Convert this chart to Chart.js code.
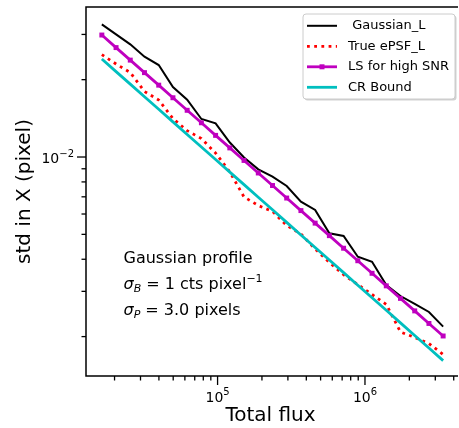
<!DOCTYPE html>
<html>
<head>
<meta charset="utf-8">
<script src="https://cdn.jsdelivr.net/npm/chart.js@4.4.1/dist/chart.umd.min.js"></script>
<style>
  html, body { margin: 0; padding: 0; background: #fff; }
  #chart { display: block; }
</style>
</head>
<body>
<canvas id="chart" width="459" height="428"></canvas>
<script>
const FONT = '"DejaVu Sans", sans-serif';

// --- Data (log-log) ---
const fluxValues = [16400, 20480, 25570, 31930, 39880, 49800, 62190, 77670, 96960,
  121100, 151200, 188900, 235900, 294400, 367700, 459200, 573400, 716100, 894200,
  1117000, 1395000, 1741000, 2175000, 2716000, 3391000];

const gaussianL = [0.03283, 0.03002, 0.02745, 0.02457, 0.02280, 0.01873, 0.01671, 0.01406,
  0.01352, 0.01139, 0.009956, 0.008956, 0.008381, 0.007712, 0.006701, 0.006221, 0.005047,
  0.004927, 0.004093, 0.003913, 0.003176, 0.002877, 0.002679, 0.002494, 0.002186];

const trueEpsfL = [0.02505, 0.02301, 0.02133, 0.01798, 0.01667, 0.01412, 0.01266, 0.01180,
  0.01036, 0.008742, 0.006990, 0.006476, 0.006137, 0.005415, 0.005016, 0.004385, 0.003886,
  0.003483, 0.003188, 0.002917, 0.002668, 0.002085, 0.001984, 0.001880, 0.001704];

const lsHighSnr = [0.02984, 0.02666, 0.02383, 0.02130, 0.01904, 0.01701, 0.01520, 0.01359,
  0.01214, 0.01085, 0.009698, 0.008667, 0.007746, 0.006923, 0.006187, 0.005529, 0.004942,
  0.004416, 0.003947, 0.003527, 0.003152, 0.002817, 0.002518, 0.002250, 0.002011];

const crBound = [0.02406, 0.02150, 0.01921, 0.01716, 0.01534, 0.01370, 0.01224, 0.01094,
  0.009775, 0.008736, 0.007805, 0.006974, 0.006231, 0.005567, 0.004974, 0.004445, 0.003971,
  0.003548, 0.003170, 0.002833, 0.002531, 0.002261, 0.002020, 0.001805, 0.001613];

const seriesNames = [" Gaussian_L", "True ePSF_L", "LS for high SNR", "CR Bound"];

// --- Ticks ---
const xMajorTicks = [1e5, 1e6];
const xTickExponents = ["5", "6"];
const xMinorTicks = [2e4, 3e4, 4e4, 5e4, 6e4, 7e4, 8e4, 9e4,
  2e5, 3e5, 4e5, 5e5, 6e5, 7e5, 8e5, 9e5, 2e6, 3e6, 4e6];
const yMajorTicks = [1e-2];
const yTickExponents = ["\u22122"];
const yMinorTicks = [2e-3, 3e-3, 4e-3, 5e-3, 6e-3, 7e-3, 8e-3, 9e-3, 2e-2, 3e-2];

const font = (size, style) => `${style ? style + " " : ""}${size}px ${FONT}`;

function points(values) {
  return values.map((v, i) => ({ x: fluxValues[i], y: v }));
}

// Draw a row of text pieces (for 10^n, subscripts etc.) starting at a baseline
function drawRuns(ctx, x, y, runs, align) {
  let total = 0;
  runs.forEach(r => {
    ctx.font = r.font;
    r.width = ctx.measureText(r.text).width;
    total += r.width;
  });
  let cx = x;
  if (align === "center") cx = x - total / 2;
  if (align === "right") cx = x - total;
  runs.forEach(r => {
    ctx.font = r.font;
    ctx.fillText(r.text, cx, y + (r.dy || 0));
    cx += r.width;
  });
}

// --- Spines, tick marks and tick labels ---
const axesPlugin = {
  id: "axesDecor",
  afterDatasetsDraw(chart) {
    const { ctx, chartArea: area, scales: { x, y } } = chart;
    ctx.save();
    ctx.strokeStyle = "#000";
    ctx.fillStyle = "#000";
    ctx.lineWidth = 1.5;

    // right spine falls just outside the picture
    ctx.beginPath();
    ctx.moveTo(area.right + 3, area.top);
    ctx.lineTo(area.left, area.top);
    ctx.lineTo(area.left, area.bottom);
    ctx.lineTo(area.right + 3, area.bottom);
    ctx.stroke();

    ctx.lineWidth = 1.3;
    const seg = (x1, y1, x2, y2) => {
      ctx.beginPath();
      ctx.moveTo(x1, y1);
      ctx.lineTo(x2, y2);
      ctx.stroke();
    };
    xMinorTicks.forEach(v => {
      const px = x.getPixelForValue(v);
      seg(px, area.bottom, px, area.bottom + 4.5);
    });
    xMajorTicks.forEach(v => {
      const px = x.getPixelForValue(v);
      seg(px, area.bottom, px, area.bottom + 9);
    });
    yMinorTicks.forEach(v => {
      const py = y.getPixelForValue(v);
      seg(area.left, py, area.left - 4.5, py);
    });
    yMajorTicks.forEach(v => {
      const py = y.getPixelForValue(v);
      seg(area.left, py, area.left - 9, py);
    });

    ctx.textBaseline = "alphabetic";
    xMajorTicks.forEach((v, i) => {
      drawRuns(ctx, x.getPixelForValue(v), area.bottom + 25.7, [
        { text: "10", font: font(14) },
        { text: xTickExponents[i], font: font(10), dy: -6.5 }
      ], "center");
    });
    yMajorTicks.forEach((v, i) => {
      drawRuns(ctx, area.left - 12, y.getPixelForValue(v) + 6, [
        { text: "10", font: font(14) },
        { text: yTickExponents[i], font: font(10), dy: -6.5 }
      ], "right");
    });
    ctx.restore();
  }
};

// --- Framed legend (upper right) and the text block ---
const legendPlugin = {
  id: "boxLegend",
  afterDraw(chart) {
    const { ctx, chartArea: area } = chart;
    const bx = 303, by = 14, bw = 152, bh = 85, r = 3;
    const box = (ox, oy) => {
      ctx.beginPath();
      ctx.moveTo(bx + ox + r, by + oy);
      ctx.lineTo(bx + ox + bw - r, by + oy);
      ctx.arcTo(bx + ox + bw, by + oy, bx + ox + bw, by + oy + r, r);
      ctx.lineTo(bx + ox + bw, by + oy + bh - r);
      ctx.arcTo(bx + ox + bw, by + oy + bh, bx + ox + bw - r, by + oy + bh, r);
      ctx.lineTo(bx + ox + r, by + oy + bh);
      ctx.arcTo(bx + ox, by + oy + bh, bx + ox, by + oy + bh - r, r);
      ctx.lineTo(bx + ox, by + oy + r);
      ctx.arcTo(bx + ox, by + oy, bx + ox + r, by + oy, r);
      ctx.closePath();
    };
    ctx.save();
    box(1.5, 1.5);
    ctx.fillStyle = "rgba(0,0,0,0.18)";
    ctx.fill();
    box(0, 0);
    ctx.fillStyle = "#fff";
    ctx.fill();
    ctx.strokeStyle = "#cccccc";
    ctx.lineWidth = 1;
    ctx.stroke();

    chart.data.datasets.forEach((ds, i) => {
      const cy = 25.8 + i * 20.5;
      ctx.strokeStyle = ds.borderColor;
      ctx.lineWidth = ds.borderWidth;
      ctx.setLineDash(ds.borderDash || []);
      ctx.beginPath();
      ctx.moveTo(307, cy);
      ctx.lineTo(337, cy);
      ctx.stroke();
      ctx.setLineDash([]);
      if (ds.pointRadius > 0) {
        ctx.fillStyle = ds.pointBackgroundColor;
        ctx.fillRect(322 - 2.5, cy - 2.5, 5, 5);
      }
      ctx.fillStyle = "#000";
      ctx.font = font(13);
      ctx.textBaseline = "middle";
      ctx.fillText(ds.label, 348, cy);
    });

    // annotation block
    ctx.fillStyle = "#000";
    ctx.textBaseline = "alphabetic";
    const tx = area.left + 37.5;
    ctx.font = font(16);
    ctx.fillText("Gaussian profile", tx, area.top + 256.3);
    drawRuns(ctx, tx, area.top + 282.3, [
      { text: "\u03c3", font: font(16, "italic") },
      { text: "B", font: font(11, "italic"), dy: 2.5 },
      { text: " = 1 cts pixel", font: font(16) },
      { text: "\u22121", font: font(11), dy: -7.5 }
    ]);
    drawRuns(ctx, tx, area.top + 308, [
      { text: "\u03c3", font: font(16, "italic") },
      { text: "P", font: font(11, "italic"), dy: 2.5 },
      { text: " = 3.0 pixels", font: font(16) }
    ]);
    ctx.restore();
  }
};

new Chart(document.getElementById("chart"), {
  type: "line",
  data: {
    datasets: [
      {
        label: seriesNames[0], data: points(gaussianL),
        borderColor: "#000000", borderWidth: 2, pointRadius: 0, order: 3
      },
      {
        label: seriesNames[1], data: points(trueEpsfL),
        borderColor: "#ff0000", borderWidth: 2.8, borderDash: [2.8, 4.4], pointRadius: 0, order: 2
      },
      {
        label: seriesNames[2], data: points(lsHighSnr),
        borderColor: "#bf00bf", borderWidth: 2.8, pointStyle: "rect", pointRadius: 3.5,
        pointBackgroundColor: "#bf00bf", pointBorderWidth: 0, order: 1
      },
      {
        label: seriesNames[3], data: points(crBound),
        borderColor: "#00bfbf", borderWidth: 2.8, pointRadius: 0, order: 0
      }
    ]
  },
  options: {
    responsive: false,
    devicePixelRatio: 1,
    animation: false,
    layout: { padding: { top: 7, right: 0, bottom: 0, left: 0 } },
    plugins: { legend: { display: false }, tooltip: { enabled: false } },
    scales: {
      x: {
        type: "logarithmic",
        min: 12805,
        max: 4.081e6,
        grid: { display: false, drawTicks: false },
        border: { display: false },
        ticks: { display: false },
        title: {
          display: true, text: "Total flux", color: "#000",
          font: { family: FONT, size: 20 }, padding: { top: 0, bottom: 0 }
        },
        afterFit: s => { s.height = 52; }
      },
      y: {
        type: "logarithmic",
        min: 0.001405,
        max: 0.03836,
        grid: { display: false, drawTicks: false },
        border: { display: false },
        ticks: { display: false },
        title: {
          display: true, text: "std in X (pixel)", color: "#000",
          font: { family: FONT, size: 20 }, padding: { top: 13, bottom: 0 }
        },
        afterFit: s => { s.width = 86; }
      }
    }
  },
  plugins: [axesPlugin, legendPlugin]
});
</script>
</body>
</html>
